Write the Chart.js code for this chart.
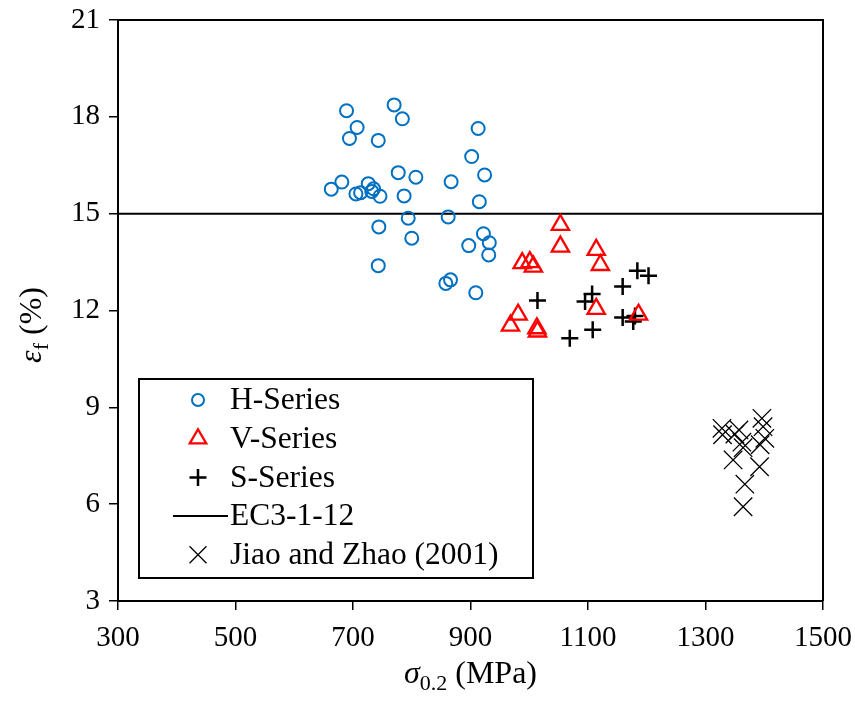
<!DOCTYPE html>
<html>
<head>
<meta charset="utf-8">
<script src="https://cdn.jsdelivr.net/npm/chart.js@4"></script>
<style>
  body { margin: 0; background: #fff; }
  #wrap { width: 855px; height: 704px; }
</style>
</head>
<body>
<div id="wrap"><canvas id="chart" width="855" height="704"></canvas></div>
<script>
// values
const hX = [689, 770, 784, 707, 694, 743, 913, 902, 924, 777, 807, 867, 681, 663, 726, 705, 713,
            735, 732, 746, 787, 915, 794, 862, 744, 800, 922, 932, 897, 931, 743, 866, 858, 909];
const hY = [18.19, 18.37, 17.94, 17.67, 17.33, 17.27, 17.64, 16.77, 16.2, 16.27, 16.13, 15.99, 15.98, 15.76, 15.93, 15.61, 15.65,
            15.77, 15.69, 15.54, 15.55, 15.37, 14.86, 14.9, 14.59, 14.24, 14.38, 14.1, 14.01, 13.72, 13.39, 12.95, 12.84, 12.55];

const vX = [1053, 1053, 1114, 1121, 988, 1001, 1007, 981, 968, 1013, 1014, 1114, 1186];
const vY = [14.65, 13.98, 13.88, 13.41, 13.47, 13.5, 13.36, 11.87, 11.53, 11.45, 11.35, 12.05, 11.87];

const sX = [1014, 1095, 1107, 1159, 1184, 1203, 1159, 1180, 1177, 1108, 1069];
const sY = [12.31, 12.28, 12.51, 12.74, 13.23, 13.08, 11.78, 11.83, 11.66, 11.4, 11.14];

const ecX = [300, 1500];
const ecY = [15, 15];

const jX = [1328, 1329, 1350, 1357, 1362, 1364, 1396, 1398, 1401, 1393, 1347, 1392, 1367, 1364];
const jY = [8.35, 8.15, 8.17, 8.3, 7.92, 7.75, 8.66, 8.4, 8.04, 7.84, 7.37, 7.16, 6.62, 5.92];

const xTicks = [300, 500, 700, 900, 1100, 1300, 1500];
const yTicks = [3, 6, 9, 12, 15, 18, 21];

const FONT = "'Liberation Serif', 'Times New Roman', serif";

function pts(xs, ys) {
    return xs.map((x, i) => ({ x: x, y: ys[i] }));
}

// frame on top and right side
const framePlugin = {
    id: "frame",
    beforeDatasetsDraw(chart) {
        const a = chart.chartArea;
        const ctx = chart.ctx;
        ctx.save();
        ctx.strokeStyle = "#000";
        ctx.lineWidth = 2;
        ctx.beginPath();
        ctx.moveTo(a.left, a.top);
        ctx.lineTo(a.right, a.top);
        ctx.lineTo(a.right, a.bottom);
        ctx.stroke();
        ctx.restore();
    }
};

// draw a run of text parts, each with its own font and vertical shift
function drawParts(ctx, parts, x, y) {
    let total = 0;
    parts.forEach(p => { ctx.font = p.font; total += ctx.measureText(p.text).width; });
    let cx = x - total / 2;
    parts.forEach(p => {
        ctx.font = p.font;
        ctx.fillText(p.text, cx, y + (p.dy || 0));
        cx += ctx.measureText(p.text).width;
    });
}

const titlePlugin = {
    id: "titles",
    afterDraw(chart) {
        const ctx = chart.ctx;
        const a = chart.chartArea;
        ctx.save();
        ctx.fillStyle = "#000";
        ctx.textBaseline = "alphabetic";
        ctx.textAlign = "left";
        // x title
        drawParts(ctx, [
            { text: "σ", font: "italic 32px " + FONT },
            { text: "0.2", font: "22px " + FONT, dy: 7 },
            { text: " (MPa)", font: "32px " + FONT }
        ], (a.left + a.right) / 2, 683);
        // y title
        ctx.translate(41, 325);
        ctx.rotate(-Math.PI / 2);
        drawParts(ctx, [
            { text: "ε", font: "italic 32px " + FONT },
            { text: "f", font: "22px " + FONT, dy: 7 },
            { text: " (%)", font: "32px " + FONT }
        ], 0, 0);
        ctx.restore();
    }
};

function drawMarker(ctx, style, r, x, y) {
    ctx.beginPath();
    if (style === "circle") {
        ctx.arc(x, y, r, 0, Math.PI * 2);
    } else if (style === "triangle") {
        for (let k = 0; k < 3; k++) {
            const ang = k * 2 * Math.PI / 3;
            const px = x + Math.sin(ang) * r, py = y - Math.cos(ang) * r;
            if (k === 0) ctx.moveTo(px, py); else ctx.lineTo(px, py);
        }
        ctx.closePath();
    } else if (style === "cross") {
        ctx.moveTo(x - r, y); ctx.lineTo(x + r, y);
        ctx.moveTo(x, y - r); ctx.lineTo(x, y + r);
    } else if (style === "crossRot") {
        const d = r * Math.SQRT1_2;
        ctx.moveTo(x - d, y - d); ctx.lineTo(x + d, y + d);
        ctx.moveTo(x - d, y + d); ctx.lineTo(x + d, y - d);
    }
    ctx.stroke();
}

// legend box inside the plot
const legendPlugin = {
    id: "boxLegend",
    afterDraw(chart) {
        const ctx = chart.ctx;
        const left = 139, top = 379, w = 394, h = 199;
        ctx.save();
        ctx.fillStyle = "#fff";
        ctx.fillRect(left, top, w, h);
        ctx.strokeStyle = "#000";
        ctx.lineWidth = 2;
        ctx.strokeRect(left, top, w, h);
        ctx.font = "31.5px " + FONT;
        ctx.textBaseline = "middle";
        ctx.textAlign = "left";
        chart.data.datasets.forEach((ds, i) => {
            const y = top + 21 + i * 38.7;
            const mx = 198;
            ctx.strokeStyle = ds.borderColor;
            ctx.lineWidth = ds.borderWidth;
            if (ds.type === "line") {
                ctx.beginPath();
                ctx.moveTo(173, y);
                ctx.lineTo(228, y);
                ctx.stroke();
            } else {
                drawMarker(ctx, ds.pointStyle, ds.legendRadius, mx, y);
            }
            ctx.fillStyle = "#000";
            ctx.fillText(ds.label, 230, y + 1);
        });
        ctx.restore();
    }
};

const ctx = document.getElementById("chart").getContext("2d");

new Chart(ctx, {
    type: "scatter",
    data: {
        datasets: [
            {
                label: "H-Series",
                data: pts(hX, hY),
                pointStyle: "circle",
                pointRadius: 6.5,
                legendRadius: 6,
                borderColor: "#0070C0",
                backgroundColor: "rgba(0,0,0,0)",
                borderWidth: 2
            },
            {
                label: "V-Series",
                data: pts(vX, vY),
                pointStyle: "triangle",
                pointRadius: 10,
                legendRadius: 9.5,
                borderColor: "#FF0000",
                backgroundColor: "rgba(0,0,0,0)",
                borderWidth: 2.3
            },
            {
                label: "S-Series",
                data: pts(sX, sY),
                pointStyle: "cross",
                pointRadius: 8.5,
                legendRadius: 8.5,
                borderColor: "#000",
                backgroundColor: "#000",
                borderWidth: 2.5
            },
            {
                type: "line",
                label: "EC3-1-12",
                data: pts(ecX, ecY),
                borderColor: "#000",
                borderWidth: 2,
                pointRadius: 0,
                fill: false
            },
            {
                label: "Jiao and Zhao (2001)",
                data: pts(jX, jY),
                pointStyle: "crossRot",
                pointRadius: 13,
                legendRadius: 12,
                borderColor: "#000",
                backgroundColor: "#000",
                borderWidth: 1.3
            }
        ]
    },
    options: {
        responsive: false,
        animation: false,
        layout: { padding: { left: 0, top: 20, right: 32, bottom: 0 } },
        plugins: {
            legend: { display: false },
            tooltip: { enabled: false }
        },
        scales: {
            x: {
                type: "linear",
                min: 300,
                max: 1500,
                afterBuildTicks: s => { s.ticks = xTicks.map(v => ({ value: v })); },
                afterFit: s => { s.height = 103; s.paddingLeft = 0; s.paddingRight = 0; },
                grid: { drawOnChartArea: false, tickLength: 9, color: "#000", lineWidth: 1.5 },
                border: { color: "#000", width: 2 },
                ticks: { color: "#000", font: { family: FONT, size: 29 }, padding: 11, callback: v => String(v) }
            },
            y: {
                type: "linear",
                min: 3,
                max: 21,
                afterBuildTicks: s => { s.ticks = yTicks.map(v => ({ value: v })); },
                afterFit: s => { s.width = 118; s.paddingTop = 0; s.paddingBottom = 0; },
                grid: { drawOnChartArea: false, tickLength: 9, color: "#000", lineWidth: 1.5 },
                border: { color: "#000", width: 2 },
                ticks: { color: "#000", font: { family: FONT, size: 29 }, padding: 9, callback: v => String(v) }
            }
        }
    },
    plugins: [framePlugin, titlePlugin, legendPlugin]
});
</script>
</body>
</html>
